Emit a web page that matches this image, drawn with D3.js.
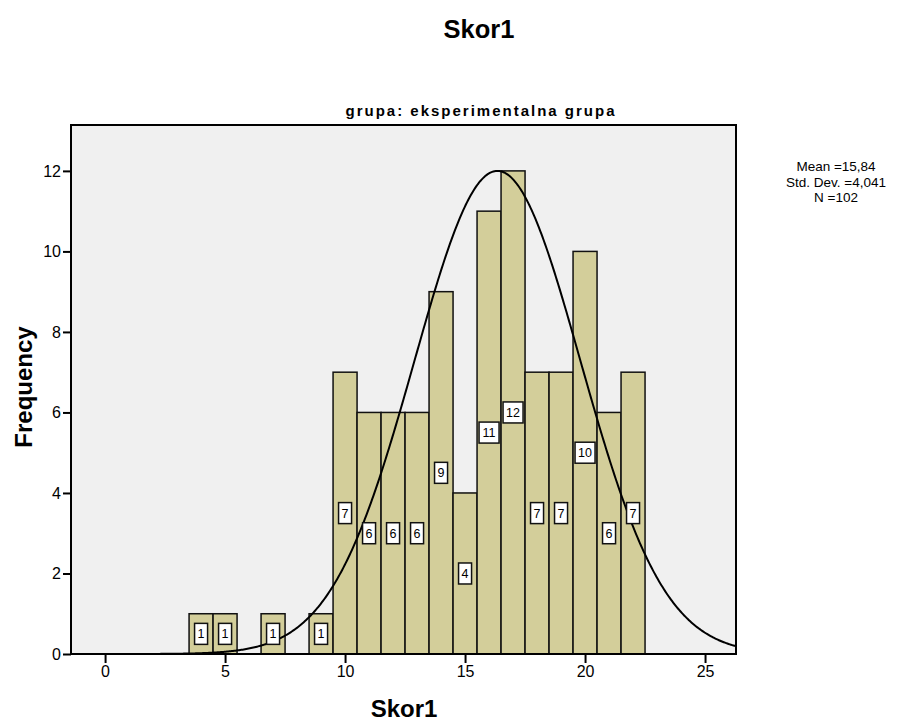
<!DOCTYPE html>
<html>
<head>
<meta charset="utf-8">
<script src="https://cdn.jsdelivr.net/npm/d3@7"></script>
<style>
  body { margin: 0; background: #fff; }
  text { font-family: Arial, "Liberation Sans", sans-serif; }
</style>
</head>
<body>
<svg></svg>
<script>
// histogram data
let bins = [4, 5, 7, 9, 10, 11, 12, 13, 14, 15, 16, 17, 18, 19, 20, 21, 22]
let counts = [1, 1, 1, 1, 7, 6, 6, 6, 9, 4, 11, 12, 7, 7, 10, 6, 7]
let xTicks = [0, 5, 10, 15, 20, 25]
let yTicks = [0, 2, 4, 6, 8, 10, 12]
let statLines = ["Mean =15,84", "Std. Dev. =4,041", "N =102"]

// normal curve as drawn
let curveCenter = 16.35
let curveSd = 3.46
let curvePeak = 12

let width = 919
let height = 722
let plotLeft = 71, plotRight = 736, plotTop = 125, plotBottom = 654

let svg = d3.select("svg").attr("width", width).attr("height", height)

let xScale = d3.scaleLinear().domain([-1.42, 26.29]).range([plotLeft, plotRight])
let yScale = d3.scaleLinear().domain([0, 13.14]).range([plotBottom, plotTop])

// plot background
svg.append("rect")
    .attr("x", plotLeft).attr("y", plotTop)
    .attr("width", plotRight - plotLeft).attr("height", plotBottom - plotTop)
    .attr("fill", "#f0f0f0")

// bars
svg.selectAll(".bar")
    .data(bins)
    .enter()
    .append("rect")
    .attr("class", "bar")
    .attr("x", (d) => xScale(d - 0.5))
    .attr("width", xScale(1) - xScale(0))
    .attr("y", (d, i) => yScale(counts[i]))
    .attr("height", (d, i) => plotBottom - yScale(counts[i]))
    .attr("fill", "#d3ce9a")
    .attr("stroke", "#111")
    .attr("stroke-width", 1.5)

// normal curve
let curveXs = d3.range(-1.42, 26.3, 0.05)
let line = d3.line()
    .x((d) => xScale(d))
    .y((d) => yScale(curvePeak * Math.exp(-Math.pow(d - curveCenter, 2) / (2 * curveSd * curveSd))))
svg.append("path")
    .datum(curveXs)
    .attr("d", line)
    .attr("fill", "none")
    .attr("stroke", "#000")
    .attr("stroke-width", 2)

// count labels
let labels = svg.selectAll(".lab")
    .data(bins)
    .enter()
    .append("g")
    .attr("class", "lab")
    .attr("transform", (d, i) => "translate(" + xScale(d) + "," + yScale(counts[i] / 2) + ")")

labels.append("rect")
    .attr("x", (d, i) => counts[i] >= 10 ? -10 : -6.5)
    .attr("y", -10.5)
    .attr("width", (d, i) => counts[i] >= 10 ? 20 : 13)
    .attr("height", 21)
    .attr("fill", "#fff")
    .attr("stroke", "#111")
    .attr("stroke-width", 1.5)

labels.append("text")
    .attr("text-anchor", "middle")
    .attr("dy", "0.36em")
    .attr("font-size", 12.5)
    .text((d, i) => counts[i])

// frame
svg.append("rect")
    .attr("x", plotLeft).attr("y", plotTop)
    .attr("width", plotRight - plotLeft).attr("height", plotBottom - plotTop)
    .attr("fill", "none")
    .attr("stroke", "#000")
    .attr("stroke-width", 2)

// axes
let xAxis = d3.axisBottom(xScale).tickValues(xTicks).tickSize(9).tickPadding(3).tickSizeOuter(0)
let yAxis = d3.axisLeft(yScale).tickValues(yTicks).tickSize(8).tickPadding(2).tickSizeOuter(0)

let gx = svg.append("g")
    .attr("transform", "translate(0," + plotBottom + ")")
    .call(xAxis)
let gy = svg.append("g")
    .attr("transform", "translate(" + plotLeft + ",0)")
    .call(yAxis)

for (let g of [gx, gy]) {
    g.select(".domain").remove()
    g.selectAll("line").attr("stroke", "#000").attr("stroke-width", 2)
    g.selectAll("text").attr("font-size", 16).attr("fill", "#000")
        .style("font-family", "Arial, 'Liberation Sans', sans-serif")
}

// titles
svg.append("text")
    .attr("x", 479).attr("y", 38)
    .attr("text-anchor", "middle")
    .attr("font-size", 25.5).attr("font-weight", "bold")
    .text("Skor1")

svg.append("text")
    .attr("x", 481).attr("y", 116)
    .attr("text-anchor", "middle")
    .attr("font-size", 15).attr("font-weight", "bold")
    .attr("letter-spacing", 2)
    .text("grupa: eksperimentalna grupa")

svg.append("text")
    .attr("x", 404).attr("y", 717)
    .attr("text-anchor", "middle")
    .attr("font-size", 24).attr("font-weight", "bold")
    .text("Skor1")

svg.append("text")
    .attr("transform", "translate(32,387) rotate(-90)")
    .attr("text-anchor", "middle")
    .attr("font-size", 24).attr("font-weight", "bold")
    .text("Frequency")

// statistics box
svg.append("g")
    .selectAll("text")
    .data(statLines)
    .enter()
    .append("text")
    .attr("x", 836)
    .attr("y", (d, i) => 171 + i * 15.5)
    .attr("text-anchor", "middle")
    .attr("font-size", 13.5)
    .text((d) => d)
</script>
</body>
</html>
